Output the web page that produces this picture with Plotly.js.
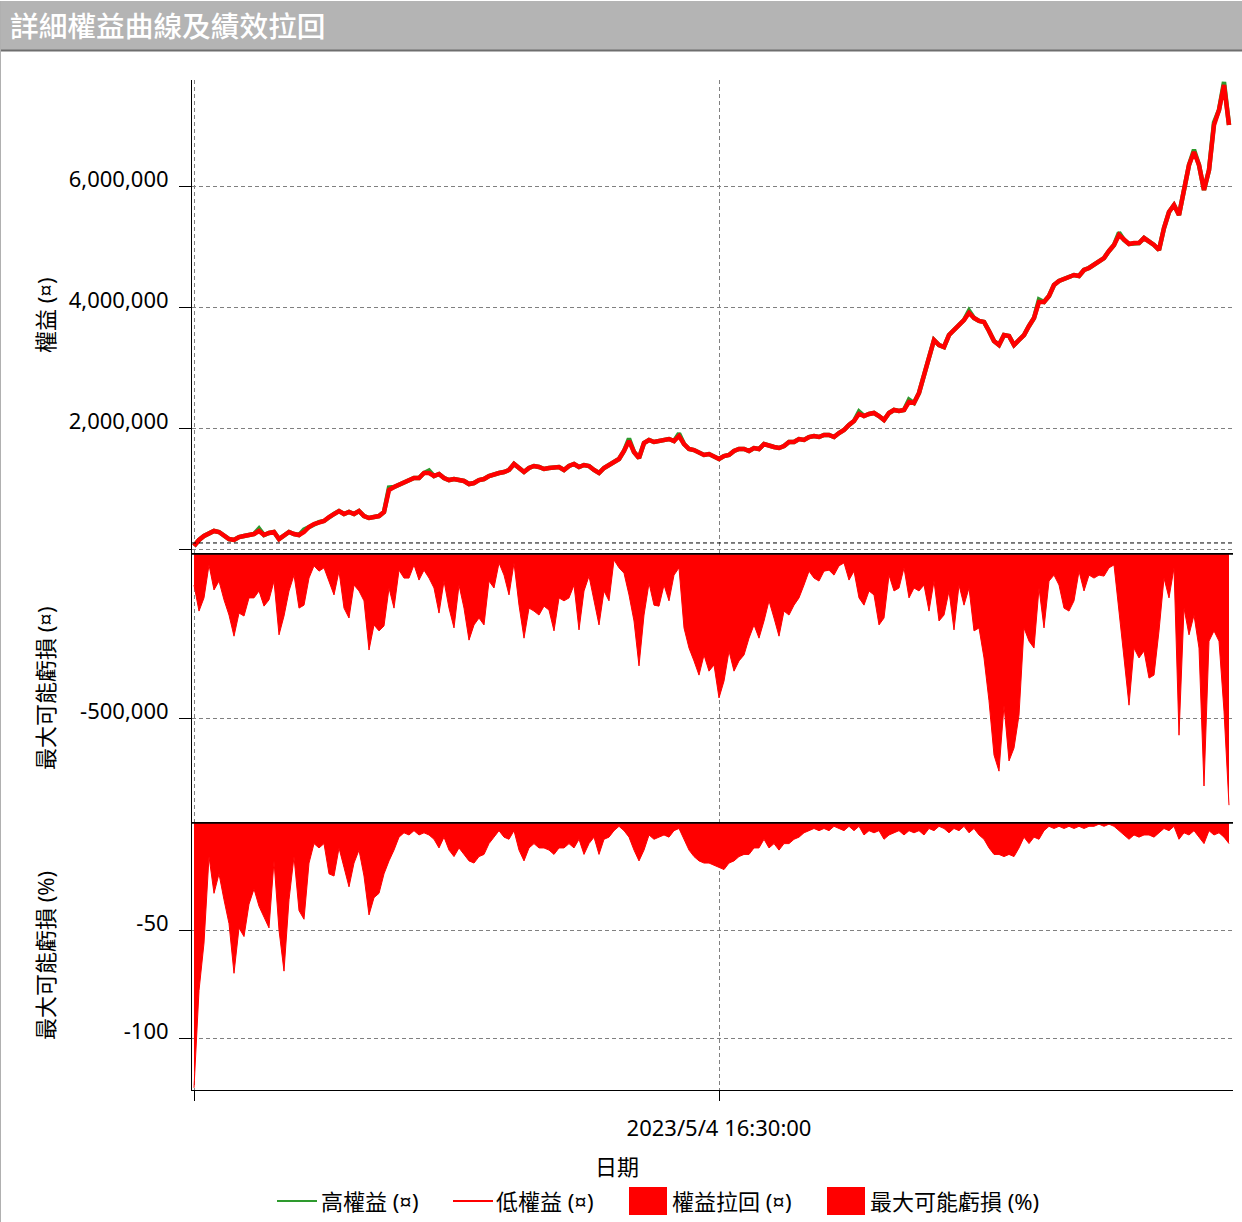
<!DOCTYPE html>
<html>
<head>
<meta charset="utf-8">
<script src="https://cdn.plot.ly/plotly-3.0.1.min.js"></script>
<style>
  html, body { margin: 0; padding: 0; background: #fff; }
  #chart { width: 1242px; height: 1222px; }
</style>
</head>
<body>
<div id="chart"></div>
<script>
// ---------------- DATA ----------------
const chartTitle = '詳細權益曲線及績效拉回';
const xTickLabels = ['', '2023/5/4 16:30:00'];
const xTickIndex = [0, 105];

const seriesNames = ['高權益 (¤)', '低權益 (¤)', '權益拉回 (¤)', '最大可能虧損 (%)'];

// 低權益 (¤)
const lowEquity = [
  50000,149000,215000,264000,298000,281000,231000,165000,149000,198000,
  215000,231000,248000,298000,231000,264000,281000,165000,215000,281000,
  248000,231000,281000,364000,413000,446000,463000,529000,579000,628000,
  579000,612000,579000,628000,545000,512000,529000,545000,612000,975000,
  1025000,1058000,1091000,1140000,1174000,1174000,1256000,1256000,1207000,1240000,
  1174000,1140000,1157000,1140000,1124000,1074000,1091000,1140000,1157000,1207000,
  1240000,1256000,1273000,1306000,1405000,1339000,1273000,1339000,1372000,1355000,
  1322000,1339000,1339000,1355000,1306000,1372000,1405000,1355000,1388000,1372000,
  1306000,1256000,1339000,1388000,1438000,1488000,1620000,1785000,1603000,1504000,
  1752000,1802000,1769000,1785000,1802000,1818000,1785000,1868000,1736000,1653000,
  1636000,1587000,1554000,1570000,1521000,1488000,1537000,1554000,1620000,1653000,
  1653000,1620000,1669000,1653000,1736000,1702000,1686000,1669000,1702000,1769000,
  1769000,1818000,1802000,1851000,1868000,1851000,1884000,1884000,1851000,1917000,
  1967000,2050000,2116000,2231000,2198000,2231000,2248000,2198000,2132000,2248000,
  2298000,2281000,2298000,2430000,2413000,2579000,2876000,3207000,3455000,3372000,
  3339000,3537000,3620000,3702000,3785000,3901000,3818000,3769000,3752000,3603000,
  3438000,3372000,3537000,3521000,3372000,3455000,3537000,3686000,3818000,4083000,
  4083000,4182000,4364000,4430000,4463000,4479000,4529000,4512000,4612000,4645000,
  4694000,4744000,4810000,4926000,5025000,5190000,5107000,5041000,5058000,5058000,
  5140000,5091000,5025000,4942000,5306000,5570000,5686000,5521000,5934000,6347000,
  6562000,6347000,5934000,6264000,7008000,7256000,7669000,7008000
];

// 高權益 (¤)
const highEquity = [
  50000,149000,215000,264000,298000,281000,231000,165000,149000,198000,
  215000,231000,248000,338000,231000,264000,281000,165000,215000,281000,
  248000,231000,321000,364000,413000,446000,463000,529000,579000,628000,
  579000,612000,579000,628000,545000,512000,529000,545000,612000,1015000,
  1025000,1058000,1091000,1140000,1174000,1174000,1256000,1296000,1207000,1240000,
  1174000,1140000,1157000,1140000,1124000,1074000,1091000,1140000,1157000,1207000,
  1240000,1256000,1273000,1306000,1405000,1339000,1273000,1339000,1372000,1355000,
  1322000,1339000,1339000,1355000,1306000,1372000,1405000,1355000,1388000,1372000,
  1306000,1256000,1339000,1388000,1438000,1488000,1620000,1825000,1603000,1504000,
  1752000,1802000,1769000,1785000,1802000,1818000,1785000,1908000,1736000,1653000,
  1636000,1587000,1554000,1570000,1521000,1488000,1537000,1554000,1620000,1653000,
  1653000,1620000,1669000,1653000,1736000,1702000,1686000,1669000,1702000,1769000,
  1769000,1818000,1802000,1851000,1868000,1851000,1884000,1884000,1851000,1917000,
  1967000,2050000,2116000,2271000,2198000,2231000,2248000,2198000,2132000,2248000,
  2298000,2281000,2298000,2470000,2413000,2579000,2876000,3207000,3455000,3372000,
  3339000,3537000,3620000,3702000,3785000,3941000,3818000,3769000,3752000,3603000,
  3438000,3372000,3537000,3521000,3372000,3455000,3537000,3686000,3818000,4123000,
  4083000,4182000,4364000,4430000,4463000,4479000,4529000,4512000,4612000,4645000,
  4694000,4744000,4810000,4926000,5025000,5230000,5107000,5041000,5058000,5058000,
  5140000,5091000,5025000,4942000,5306000,5570000,5686000,5521000,5934000,6347000,
  6602000,6347000,5934000,6264000,7048000,7256000,7719000,7008000
];

// 權益拉回 (¤)
const drawdown = [
  -97000,-176000,-136000,-36000,-112000,-85000,-142000,-188000,-252000,-182000,
  -191000,-136000,-136000,-115000,-161000,-142000,-85000,-248000,-191000,-115000,
  -67000,-167000,-158000,-76000,-39000,-55000,-45000,-85000,-127000,-55000,
  -167000,-197000,-97000,-115000,-145000,-294000,-218000,-236000,-221000,-106000,
  -167000,-52000,-76000,-76000,-36000,-82000,-52000,-76000,-106000,-182000,
  -85000,-167000,-227000,-97000,-167000,-264000,-218000,-197000,-218000,-85000,
  -106000,-30000,-67000,-127000,-30000,-158000,-258000,-167000,-176000,-188000,
  -161000,-173000,-236000,-136000,-145000,-136000,-97000,-233000,-115000,-70000,
  -145000,-218000,-115000,-145000,-21000,-45000,-61000,-127000,-206000,-342000,
  -188000,-91000,-158000,-161000,-97000,-145000,-67000,-45000,-227000,-288000,
  -327000,-370000,-309000,-358000,-339000,-439000,-388000,-297000,-358000,-327000,
  -309000,-258000,-218000,-258000,-206000,-145000,-197000,-252000,-176000,-188000,
  -158000,-136000,-97000,-55000,-76000,-85000,-55000,-52000,-67000,-39000,
  -30000,-82000,-55000,-136000,-158000,-115000,-127000,-218000,-197000,-67000,
  -115000,-106000,-45000,-136000,-106000,-115000,-97000,-176000,-85000,-206000,
  -188000,-115000,-233000,-97000,-158000,-106000,-236000,-227000,-318000,-448000,
  -612000,-661000,-461000,-630000,-591000,-491000,-227000,-267000,-288000,-106000,
  -227000,-85000,-67000,-97000,-167000,-176000,-145000,-55000,-115000,-67000,
  -76000,-67000,-70000,-45000,-36000,-188000,-318000,-461000,-288000,-318000,
  -297000,-379000,-370000,-236000,-76000,-136000,-45000,-552000,-167000,-248000,
  -188000,-288000,-706000,-267000,-236000,-267000,-479000,-764000
];

// 最大可能虧損 (%)
const maxLossPct = [
  -123,-78,-56,-16,-33,-24,-36,-47,-70,-49,
  -53,-38,-31,-39,-44,-49,-18,-50,-69,-36,
  -16,-41,-45,-19,-10,-12,-10,-24,-25,-12,
  -21,-30,-19,-13,-25,-43,-35,-33,-24,-18,
  -13,-7,-5,-6,-4,-6,-5,-6,-8,-12,
  -7,-13,-16,-12,-15,-18,-19,-16,-15,-10,
  -7,-4,-7,-8,-4,-13,-18,-12,-10,-12,
  -12,-13,-15,-12,-12,-10,-12,-8,-15,-10,
  -7,-15,-8,-7,-4,-2,-4,-7,-13,-18,
  -13,-6,-8,-7,-6,-7,-4,-3,-8,-13,
  -16,-18,-19,-19,-20,-21,-22,-19,-18,-16,
  -15,-15,-12,-12,-8,-12,-10,-13,-10,-10,
  -8,-7,-5,-4,-3,-4,-3,-4,-2,-3,
  -4,-2,-4,-2,-6,-4,-5,-4,-8,-6,
  -5,-4,-6,-4,-5,-4,-6,-3,-4,-2,
  -3,-5,-3,-4,-2,-5,-3,-6,-8,-12,
  -15,-15,-16,-15,-16,-12,-7,-10,-7,-8,
  -4,-2,-3,-2,-3,-2,-3,-2,-3,-2,
  -2,-1,-2,-1,-2,-4,-6,-8,-6,-7,
  -6,-6,-7,-5,-3,-4,-2,-8,-5,-6,
  -4,-7,-10,-4,-6,-5,-7,-10
];

const equityTicks = [0, 2000000, 4000000, 6000000];
const equityTickText = ['', '2,000,000', '4,000,000', '6,000,000'];
const ddTicks = [-500000];
const ddTickText = ['-500,000'];
const pctTicks = [-50, -100];
const pctTickText = ['-50', '-100'];

const yTitles = ['權益 (¤)', '最大可能虧損 (¤)', '最大可能虧損 (%)'];
const xTitle = '日期';

// ---------------- LAYOUT HELPERS ----------------
const W = 1242, H = 1222;
const L = 192, R = 1233, T = 80, B = 1090;
const px = x => (x - L) / (R - L);
const py = y => (B - y) / (B - T);

const X = lowEquity.map((_, i) => i);
const RED = '#ff0000';
const GREEN = '#2e9a2e';
const FONT = 'Noto Sans, Noto Sans CJK TC, sans-serif';
const GRID = '#808080';
const DASH = '4px,3px';

const traces = [
  { x: X, y: highEquity, name: seriesNames[0], type: 'scatter', mode: 'lines',
    line: { color: GREEN, width: 4.5 }, xaxis: 'x', yaxis: 'y' },
  { x: X, y: lowEquity, name: seriesNames[1], type: 'scatter', mode: 'lines',
    line: { color: RED, width: 4.5 }, xaxis: 'x', yaxis: 'y' },
  { x: X, y: drawdown, name: seriesNames[2], type: 'scatter', mode: 'lines',
    fill: 'tozeroy', fillcolor: RED, line: { color: RED, width: 1 }, xaxis: 'x', yaxis: 'y2' },
  { x: X, y: maxLossPct, name: seriesNames[3], type: 'scatter', mode: 'lines',
    fill: 'tozeroy', fillcolor: RED, line: { color: RED, width: 1 }, xaxis: 'x', yaxis: 'y3' }
];

const yCommon = {
  showline: true, linecolor: '#000', linewidth: 1, mirror: false,
  ticks: 'outside', ticklen: 12, tickcolor: '#000', tickwidth: 1,
  showgrid: true, gridcolor: GRID, gridwidth: 1, griddash: DASH,
  zeroline: false, tickmode: 'array',
  tickfont: { family: FONT, size: 22, color: '#000' },
  ticklabelstandoff: 6, ticklabelshift: -7, fixedrange: true
};

const layout = {
  width: W, height: H,
  paper_bgcolor: '#fff', plot_bgcolor: '#fff',
  margin: { l: L, r: W - R, t: T, b: H - B, pad: 0 },
  showlegend: false,
  font: { family: FONT, size: 22, color: '#000' },
  title: {
    text: chartTitle, xref: 'container', yref: 'container',
    x: 10 / W, xanchor: 'left', y: 1 - 27 / H, yanchor: 'middle',
    font: { family: 'Noto Sans CJK TC, sans-serif', size: 28.7, color: '#ffffff', weight: 500 }
  },
  xaxis: {
    anchor: 'y3', domain: [0, 1], range: [-0.4, 207.8],
    showline: true, linecolor: '#000', linewidth: 1,
    ticks: 'outside', ticklen: 10, tickcolor: '#000',
    tickmode: 'array', tickvals: xTickIndex, ticktext: xTickLabels,
    tickfont: { family: FONT, size: 22, color: '#000' },
    ticklabelstandoff: 9,
    showgrid: true, gridcolor: GRID, gridwidth: 1, griddash: DASH,
    zeroline: false, fixedrange: true
  },
  yaxis: Object.assign({}, yCommon, {
    anchor: 'x', domain: [py(553), 1], range: [-66000, 7752000],
    tickvals: equityTicks, ticktext: equityTickText
  }),
  yaxis2: Object.assign({}, yCommon, {
    anchor: 'x', domain: [py(822), py(553)], range: [-815000, 0],
    tickvals: ddTicks, ticktext: ddTickText
  }),
  yaxis3: Object.assign({}, yCommon, {
    anchor: 'x', domain: [0, py(822)], range: [-124, 0],
    tickvals: pctTicks, ticktext: pctTickText
  }),
  shapes: [
    // title bar
    { type: 'rect', xref: 'paper', yref: 'paper', x0: px(1), x1: px(1242), y0: py(50), y1: py(1),
      fillcolor: '#b4b4b4', line: { width: 0 }, layer: 'below' },
    { type: 'line', xref: 'paper', yref: 'paper', x0: px(1), x1: px(1242), y0: py(50.5), y1: py(50.5),
      line: { color: '#6e6e6e', width: 2 } },
    // outer frame left edge
    { type: 'line', xref: 'paper', yref: 'paper', x0: px(0.5), x1: px(0.5), y0: py(1), y1: py(1222),
      line: { color: '#b0b0b0', width: 1 } },
    // reference dashed line in equity panel
    { type: 'line', xref: 'paper', yref: 'y', x0: px(192), x1: 1, y0: 100000, y1: 100000,
      line: { color: '#000', width: 1, dash: DASH } },
    // thick zero lines of drawdown panels
    { type: 'line', xref: 'paper', yref: 'y2', x0: 0, x1: 1, y0: 0, y1: 0,
      line: { color: '#000', width: 3.5 }, layer: 'above' },
    { type: 'line', xref: 'paper', yref: 'y3', x0: 0, x1: 1, y0: 0, y1: 0,
      line: { color: '#000', width: 3.5 }, layer: 'above' },
    // legend symbols
    { type: 'line', xref: 'paper', yref: 'paper', x0: px(277), x1: px(317), y0: py(1201), y1: py(1201),
      line: { color: GREEN, width: 2 } },
    { type: 'line', xref: 'paper', yref: 'paper', x0: px(453), x1: px(493), y0: py(1201), y1: py(1201),
      line: { color: RED, width: 2 } },
    { type: 'rect', xref: 'paper', yref: 'paper', x0: px(629), x1: px(667), y0: py(1215), y1: py(1187),
      fillcolor: RED, line: { width: 0 } },
    { type: 'rect', xref: 'paper', yref: 'paper', x0: px(827), x1: px(865), y0: py(1215), y1: py(1187),
      fillcolor: RED, line: { width: 0 } }
  ],
  annotations: [
    { text: yTitles[0], xref: 'paper', yref: 'paper', x: px(45), y: py(315), textangle: -90,
      showarrow: false, xanchor: 'center', yanchor: 'middle', font: { size: 22, color: '#000' } },
    { text: yTitles[1], xref: 'paper', yref: 'paper', x: px(45), y: py(688), textangle: -90,
      showarrow: false, xanchor: 'center', yanchor: 'middle', font: { size: 22, color: '#000' } },
    { text: yTitles[2], xref: 'paper', yref: 'paper', x: px(45), y: py(956), textangle: -90,
      showarrow: false, xanchor: 'center', yanchor: 'middle', font: { size: 22, color: '#000' } },
    { text: xTitle, xref: 'paper', yref: 'paper', x: px(617), y: py(1166),
      showarrow: false, xanchor: 'center', yanchor: 'middle', font: { size: 22, color: '#000' } },
    { text: seriesNames[0], xref: 'paper', yref: 'paper', x: px(319), y: py(1201),
      showarrow: false, xanchor: 'left', yanchor: 'middle', font: { size: 22, color: '#000' } },
    { text: seriesNames[1], xref: 'paper', yref: 'paper', x: px(494), y: py(1201),
      showarrow: false, xanchor: 'left', yanchor: 'middle', font: { size: 22, color: '#000' } },
    { text: seriesNames[2], xref: 'paper', yref: 'paper', x: px(670), y: py(1201),
      showarrow: false, xanchor: 'left', yanchor: 'middle', font: { size: 22, color: '#000' } },
    { text: seriesNames[3], xref: 'paper', yref: 'paper', x: px(868), y: py(1201),
      showarrow: false, xanchor: 'left', yanchor: 'middle', font: { size: 22, color: '#000' } }
  ]
};

Plotly.newPlot('chart', traces, layout, { staticPlot: true, displayModeBar: false });
</script>
</body>
</html>
